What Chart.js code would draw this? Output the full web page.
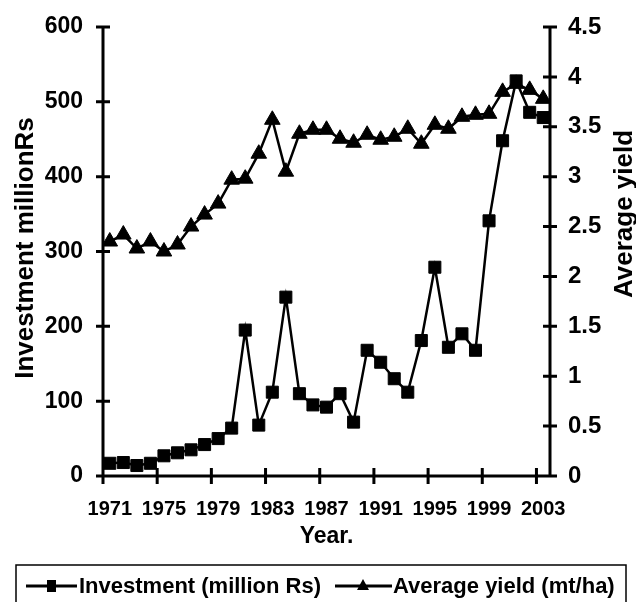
<!DOCTYPE html>
<html>
<head>
<meta charset="utf-8">
<script src="https://cdn.jsdelivr.net/npm/chart.js@4.4.1/dist/chart.umd.min.js"></script>
<style>
    html, body { margin: 0; padding: 0; background: #fff; }
    #wrap { width: 636px; height: 602px; }
</style>
</head>
<body>
<div id="wrap"><canvas id="chart" width="636" height="602"></canvas></div>
<script>
const years = [1971, 1972, 1973, 1974, 1975, 1976, 1977, 1978, 1979, 1980,
    1981, 1982, 1983, 1984, 1985, 1986, 1987, 1988, 1989, 1990,
    1991, 1992, 1993, 1994, 1995, 1996, 1997, 1998, 1999, 2000,
    2001, 2002, 2003];
const investment = [17, 18, 14, 17, 27, 31, 35, 42, 50, 64,
    195, 68, 112, 239, 110, 95, 92, 110, 72, 168,
    152, 130, 112, 181, 279, 172, 190, 168, 341, 448,
    528, 486, 479];
const avgYield = [2.35, 2.42, 2.28, 2.35, 2.25, 2.32, 2.50, 2.62, 2.73, 2.97,
    2.98, 3.23, 3.57, 3.05, 3.43, 3.47, 3.47, 3.38, 3.34, 3.42,
    3.37, 3.40, 3.48, 3.33, 3.52, 3.48, 3.60, 3.62, 3.63, 3.85,
    3.93, 3.87, 3.78];
const xTickYears = [1971, 1975, 1979, 1983, 1987, 1991, 1995, 1999, 2003];
const leftTicks = [0, 100, 200, 300, 400, 500, 600];
const rightTicks = [0, 0.5, 1, 1.5, 2, 2.5, 3, 3.5, 4, 4.5];

const FONT = "'Liberation Sans', Arial, sans-serif";

// axis lines with crossing tick marks, like the excel original
const axesPlugin = {
    id: 'axes',
    beforeDatasetsDraw(chart) {
        const { ctx, chartArea: a, scales } = chart;
        ctx.save();
        ctx.strokeStyle = '#000';
        ctx.lineWidth = 3;
        ctx.beginPath();
        ctx.moveTo(a.left, a.top);
        ctx.lineTo(a.left, a.bottom);
        ctx.lineTo(a.right, a.bottom);
        ctx.moveTo(a.right, a.top);
        ctx.lineTo(a.right, a.bottom);
        leftTicks.forEach(v => {
            const py = scales.y.getPixelForValue(v);
            ctx.moveTo(a.left - 7, py);
            ctx.lineTo(a.left + 7, py);
        });
        rightTicks.forEach(v => {
            const py = scales.y2.getPixelForValue(v);
            ctx.moveTo(a.right - 7, py);
            ctx.lineTo(a.right + 7, py);
        });
        xTickYears.forEach(v => {
            const px = scales.x.getPixelForValue(v - 0.5);
            ctx.moveTo(px, a.bottom - 8);
            ctx.lineTo(px, a.bottom + 8);
        });
        ctx.stroke();
        ctx.restore();
    }
};

// titles + boxed legend
const textPlugin = {
    id: 'texts',
    afterDraw(chart) {
        const { ctx, chartArea: a } = chart;
        ctx.save();
        ctx.fillStyle = '#000';
        ctx.textAlign = 'center';
        ctx.textBaseline = 'alphabetic';

        ctx.font = 'bold 26px ' + FONT;
        ctx.save();
        ctx.translate(33, 248);
        ctx.rotate(-Math.PI / 2);
        ctx.fillText('Investment millionRs', 0, 0);
        ctx.restore();

        ctx.save();
        ctx.translate(632, 214);
        ctx.rotate(-Math.PI / 2);
        ctx.fillText('Average yield', 0, 0);
        ctx.restore();

        ctx.font = 'bold 23px ' + FONT;
        ctx.fillText('Year.', (a.left + a.right) / 2, 543);

        // legend
        ctx.strokeStyle = '#000';
        ctx.lineWidth = 1.5;
        ctx.strokeRect(16, 565, 610, 60);
        const ly = 586;
        ctx.lineWidth = 3;
        ctx.beginPath();
        ctx.moveTo(26, ly); ctx.lineTo(77, ly);
        ctx.moveTo(335, ly); ctx.lineTo(392, ly);
        ctx.stroke();
        ctx.fillRect(47, ly - 6, 9, 12);
        ctx.beginPath();
        ctx.moveTo(363, ly - 7);
        ctx.lineTo(369, ly + 4);
        ctx.lineTo(357, ly + 4);
        ctx.closePath();
        ctx.fill();

        ctx.font = 'bold 22px ' + FONT;
        ctx.textAlign = 'left';
        ctx.textBaseline = 'middle';
        ctx.fillText('Investment (million Rs)', 79, ly + 1);
        ctx.fillText('Average yield (mt/ha)', 393, ly + 1);
        ctx.restore();
    }
};

// fixed box sizes so the plot sits where it does in the original
function fixWidth(w) {
    return scale => {
        scale.width = w;
        scale.paddingTop = 0;
        scale.paddingBottom = 0;
    };
}

new Chart(document.getElementById('chart'), {
    type: 'line',
    plugins: [axesPlugin, textPlugin],
    data: {
        datasets: [{
            label: 'Investment (million Rs)',
            data: years.map((yr, i) => ({ x: yr, y: investment[i] })),
            yAxisID: 'y',
            borderColor: '#000',
            borderWidth: 2.5,
            pointStyle: 'rect',
            pointRadius: 8.5,
            pointBorderWidth: 1,
            pointBackgroundColor: '#000',
            pointBorderColor: '#000',
            tension: 0
        }, {
            label: 'Average yield (mt/ha)',
            data: years.map((yr, i) => ({ x: yr, y: avgYield[i] })),
            yAxisID: 'y2',
            borderColor: '#000',
            borderWidth: 2.5,
            pointStyle: 'triangle',
            pointRadius: 9,
            pointBorderWidth: 1,
            pointBackgroundColor: '#000',
            pointBorderColor: '#000',
            tension: 0
        }]
    },
    options: {
        responsive: false,
        animation: false,
        layout: { padding: { top: 27, left: 0, right: 0, bottom: 0 } },
        plugins: {
            legend: { display: false },
            tooltip: { enabled: false }
        },
        scales: {
            x: {
                type: 'linear',
                min: 1970.5,
                max: 2003.5,
                grid: { display: false, drawTicks: false },
                border: { display: false },
                afterBuildTicks: scale => { scale.ticks = xTickYears.map(v => ({ value: v })); },
                afterFit: scale => {
                    scale.height = 126;
                    scale.paddingLeft = 0;
                    scale.paddingRight = 0;
                },
                ticks: {
                    autoSkip: false,
                    maxRotation: 0,
                    padding: 21,
                    color: '#000',
                    font: { family: FONT, size: 20, weight: 'bold' },
                    callback: v => String(v)
                }
            },
            y: {
                position: 'left',
                min: 0,
                max: 600,
                grid: { display: false, drawTicks: false },
                border: { display: false },
                afterBuildTicks: scale => { scale.ticks = leftTicks.map(v => ({ value: v })); },
                afterFit: fixWidth(103),
                ticks: {
                    padding: 20,
                    color: '#000',
                    font: { family: FONT, size: 23, weight: 'bold' }
                }
            },
            y2: {
                position: 'right',
                min: 0,
                max: 4.5,
                grid: { display: false, drawTicks: false },
                border: { display: false },
                afterBuildTicks: scale => { scale.ticks = rightTicks.map(v => ({ value: v })); },
                afterFit: fixWidth(86),
                ticks: {
                    padding: 18,
                    color: '#000',
                    font: { family: FONT, size: 24, weight: 'bold' },
                    callback: v => String(v)
                }
            }
        }
    }
});
</script>
</body>
</html>
